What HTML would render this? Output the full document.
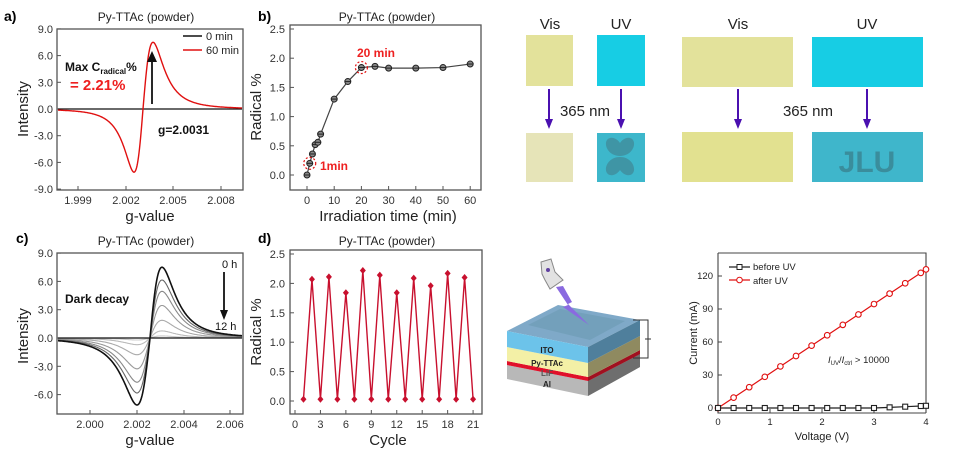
<!DOCTYPE html>
<html><head><meta charset="utf-8">
<style>
body{margin:0;background:#fff;}
svg{display:block;font-family:"Liberation Sans",sans-serif;}
</style></head>
<body>
<svg id="s" width="966" height="455" viewBox="0 0 966 455" xmlns="http://www.w3.org/2000/svg">
<rect width="966" height="455" fill="#fff"/>
<g font-size="15" fill="#222" text-anchor="middle">
<text x="550" y="29">Vis</text><text x="621" y="29">UV</text>
<text x="738" y="29">Vis</text><text x="867" y="29">UV</text>
<text x="585" y="116">365 nm</text><text x="808" y="116">365 nm</text>
</g>
<rect x="526" y="35" width="47" height="51" fill="#e3e29b"/>
<rect x="597" y="35" width="48" height="51" fill="#17cde4"/>
<rect x="526" y="133" width="47" height="49" fill="#e6e4b8"/>
<rect x="597" y="133" width="48" height="49" fill="#3db7cb"/>
<g fill="#3f95a5">
<path d="M620 156 C606 156 602 140 610 138 C614 137 618 140 620 143 C622 140 626 137 630 138 C638 140 634 156 620 156Z"/>
<path d="M620 157 C606 157 602 173 610 175 C614 176 618 173 620 170 C622 173 626 176 630 175 C638 173 634 157 620 157Z"/>
</g>
<rect x="682" y="37" width="111" height="50" fill="#e3e29b"/>
<rect x="812" y="37" width="111" height="50" fill="#17cde4"/>
<rect x="682" y="132" width="111" height="50" fill="#e2e190"/>
<rect x="812" y="132" width="111" height="50" fill="#3fb6cb"/>
<text x="867" y="172" font-size="30" font-weight="bold" fill="#3a8d9c" text-anchor="middle">JLU</text>
<g stroke="#4a10b0" stroke-width="2" fill="#4a10b0">
<line x1="549" y1="89" x2="549" y2="120"/><path d="M545 119 L553 119 L549 129Z" stroke="none"/>
<line x1="621" y1="89" x2="621" y2="120"/><path d="M617 119 L625 119 L621 129Z" stroke="none"/>
<line x1="738" y1="89" x2="738" y2="120"/><path d="M734 119 L742 119 L738 129Z" stroke="none"/>
<line x1="867" y1="89" x2="867" y2="120"/><path d="M863 119 L871 119 L867 129Z" stroke="none"/>
</g>
<g>
<path d="M507 365 L588 381 L640 354 L640 367 L588 396 L507 379Z" fill="#b8b8b8"/>
<path d="M588 381 L640 354 L640 367 L588 396Z" fill="#6e6e6e"/>
<path d="M507 361 L588 377 L640 350 L640 354 L588 381 L507 365Z" fill="#e0102a"/>
<path d="M588 377 L640 350 L640 354 L588 381Z" fill="#a01020"/>
<path d="M507 347 L588 363 L640 336 L640 350 L588 377 L507 361Z" fill="#f3f0a6"/>
<path d="M588 363 L640 336 L640 350 L588 377Z" fill="#8f8a60"/>
<path d="M507 331 L558 305 L640 320 L588 347Z" fill="#7fa9c8"/>
<path d="M507 331 L588 347 L588 363 L507 347Z" fill="#6cc3ea"/>
<path d="M588 347 L640 320 L640 336 L588 363Z" fill="#4f7f9c"/>
<path d="M528 325 L560 309 L625 321 L590 340Z" fill="#6b9bb3" opacity="0.6"/>
<g font-size="8" font-weight="bold" fill="#222" text-anchor="middle">
<text x="547" y="353">ITO</text><text x="547" y="366">Py-TTAc</text><text x="547" y="376" fill="#555">LiF</text><text x="547" y="387">Al</text>
</g>
<path d="M556 287 L563 286 L572 302 L568 304 L589 325 L563 307 L568 305 Z" fill="#8a6ae0"/>
<path d="M541 262 L551 259 L555 272 L563 280 L550 289 L545 280 L542 274 Z" fill="#e2e2e2" stroke="#888"/>
<circle cx="548" cy="270" r="2" fill="#6040a0"/>
<path d="M633 320 L648 320 L648 358 L633 358 M645 339 L651 339" stroke="#333" fill="none"/>
</g>
<g id="iv"></g>
<g id="pa"></g><g id="pb"></g><g id="pc"></g><g id="pd"></g>
</svg>
<script>
const NS="http://www.w3.org/2000/svg";
function el(p,t,a,txt){const e=document.createElementNS(NS,t);for(const k in a)e.setAttribute(k,a[k]);if(txt!==undefined)e.textContent=txt;document.getElementById(p).appendChild(e);return e;}
function frame(p,x0,y0,x1,y1){el(p,"rect",{x:x0,y:y0,width:x1-x0,height:y1-y0,fill:"none",stroke:"#555","stroke-width":1.3});}
function s(u){return u/Math.pow(1+u*u/3,2)/0.5625;}
function epr(x,xz,al,ar,pmin,pmax){const d=x-xz;return d<0?pmin*s(d/al):pmax*s(d/ar);}
(function(){const p="pa";
el(p,"text",{x:4,y:21,"font-size":14,"font-weight":"bold"},"a)");
el(p,"text",{x:146,y:21,"font-size":12,"text-anchor":"middle",fill:"#222"},"Py-TTAc (powder)");
frame(p,57,29,243,190);
const yz=109,k=26.7/3;
[9,6,3,0,-3,-6,-9].forEach(v=>{const y=yz-v*k;el(p,"text",{x:53,y:y+4,"font-size":11,"text-anchor":"end",fill:"#333"},v.toFixed(1));el(p,"line",{x1:57,y1:y,x2:61,y2:y,stroke:"#555"});});
[[78,"1.999"],[126,"2.002"],[173,"2.005"],[221,"2.008"]].forEach(a=>{el(p,"text",{x:a[0],y:204,"font-size":11,"text-anchor":"middle",fill:"#333"},a[1]);el(p,"line",{x1:a[0],y1:190,x2:a[0],y2:186,stroke:"#555"});});
el(p,"text",{x:150,y:221,"font-size":15,"text-anchor":"middle",fill:"#222"},"g-value");
el(p,"text",{x:0,y:0,"font-size":15,"text-anchor":"middle",fill:"#222",transform:"translate(28,109) rotate(-90)"},"Intensity");
el(p,"line",{x1:58,y1:yz,x2:242,y2:yz,stroke:"#111","stroke-width":1.3});
let d="";for(let x=58;x<=242;x+=0.5){d+=(x==58?"M":"L")+x+" "+(yz-epr(x,143,9,10,7.1,7.5)*k).toFixed(1);}
el(p,"path",{d:d,fill:"none",stroke:"#e01010","stroke-width":1.4});
el(p,"line",{x1:183,y1:36,x2:202,y2:36,stroke:"#111","stroke-width":1.5});
el(p,"line",{x1:183,y1:50,x2:202,y2:50,stroke:"#e01010","stroke-width":1.5});
el(p,"text",{x:206,y:40,"font-size":11,fill:"#222"},"0 min");
el(p,"text",{x:206,y:54,"font-size":11,fill:"#222"},"60 min");
const t=el(p,"text",{x:65,y:71,"font-size":12,"font-weight":"bold",fill:"#111"});t.innerHTML='Max C<tspan font-size="8" dy="3">radical</tspan><tspan dy="-3">%</tspan>';
el(p,"text",{x:70,y:90,"font-size":15,"font-weight":"bold",fill:"#ee2020"},"= 2.21%");
el(p,"line",{x1:152,y1:104,x2:152,y2:60,stroke:"#111","stroke-width":1.8});
el(p,"path",{d:"M147 62 L157 62 L152 51Z",fill:"#111"});
el(p,"text",{x:158,y:134,"font-size":12,"font-weight":"bold",fill:"#111"},"g=2.0031");
})();
(function(){const p="pb";
el(p,"text",{x:258,y:21,"font-size":14,"font-weight":"bold"},"b)");
el(p,"text",{x:387,y:21,"font-size":12,"text-anchor":"middle",fill:"#222"},"Py-TTAc (powder)");
frame(p,290,25,481,190);
const X=v=>307+v*2.72,Y=v=>175-v*58.4;
[0,0.5,1,1.5,2,2.5].forEach(v=>{el(p,"text",{x:285,y:Y(v)+4,"font-size":11,"text-anchor":"end",fill:"#333"},v.toFixed(1));el(p,"line",{x1:290,y1:Y(v),x2:294,y2:Y(v),stroke:"#555"});});
[0,10,20,30,40,50,60].forEach(v=>{el(p,"text",{x:X(v),y:204,"font-size":11,"text-anchor":"middle",fill:"#333"},v);el(p,"line",{x1:X(v),y1:190,x2:X(v),y2:186,stroke:"#555"});});
el(p,"text",{x:388,y:221,"font-size":15,"text-anchor":"middle",fill:"#222"},"Irradiation time (min)");
el(p,"text",{x:0,y:0,"font-size":15,"text-anchor":"middle",fill:"#222",transform:"translate(261,107) rotate(-90)"},"Radical %");
const pts=[[0,0],[1,0.2],[2,0.36],[3,0.52],[4,0.56],[5,0.7],[10,1.3],[15,1.6],[20,1.84],[25,1.86],[30,1.83],[40,1.83],[50,1.84],[60,1.9]];
el(p,"path",{d:pts.map((q,i)=>(i?"L":"M")+X(q[0])+" "+Y(q[1])).join(""),fill:"none",stroke:"#444","stroke-width":1.2});
pts.forEach(q=>{el(p,"circle",{cx:X(q[0]),cy:Y(q[1]),r:3,fill:"#888",stroke:"#222","stroke-width":1});el(p,"line",{x1:X(q[0])-3,y1:Y(q[1]),x2:X(q[0])+3,y2:Y(q[1]),stroke:"#222"});});
el(p,"circle",{cx:X(1),cy:Y(0.2),r:6,fill:"none",stroke:"#e01010","stroke-dasharray":"2 2","stroke-width":1.2});
el(p,"circle",{cx:X(20),cy:Y(1.84),r:6,fill:"none",stroke:"#e01010","stroke-dasharray":"2 2","stroke-width":1.2});
el(p,"text",{x:357,y:57,"font-size":12,"font-weight":"bold",fill:"#ee2020"},"20 min");
el(p,"text",{x:320,y:170,"font-size":12,"font-weight":"bold",fill:"#ee2020"},"1min");
})();
(function(){const p="pc";
el(p,"text",{x:16,y:243,"font-size":14,"font-weight":"bold"},"c)");
el(p,"text",{x:146,y:245,"font-size":12,"text-anchor":"middle",fill:"#222"},"Py-TTAc (powder)");
frame(p,57,253,243,414);
const yz=338,k=28.3/3;
[9,6,3,0,-3,-6].forEach(v=>{const y=yz-v*k;el(p,"text",{x:53,y:y+4,"font-size":11,"text-anchor":"end",fill:"#333"},v.toFixed(1));el(p,"line",{x1:57,y1:y,x2:61,y2:y,stroke:"#555"});});
[[90,"2.000"],[137,"2.002"],[184,"2.004"],[230,"2.006"]].forEach(a=>{el(p,"text",{x:a[0],y:428,"font-size":11,"text-anchor":"middle",fill:"#333"},a[1]);el(p,"line",{x1:a[0],y1:414,x2:a[0],y2:410,stroke:"#555"});});
el(p,"text",{x:150,y:445,"font-size":15,"text-anchor":"middle",fill:"#222"},"g-value");
el(p,"text",{x:0,y:0,"font-size":15,"text-anchor":"middle",fill:"#222",transform:"translate(28,336) rotate(-90)"},"Intensity");
const sc=[0.03,0.1,0.25,0.46,0.66,0.82,1];const cols=["#ccc","#bbb","#aaa","#999","#888","#666","#111"];
sc.forEach((f,i)=>{let d="";for(let x=58;x<=242;x+=0.5){d+=(x==58?"M":"L")+x+" "+(yz-f*epr(x,150,13,12,7.1,7.5)*k).toFixed(1);}
el(p,"path",{d:d,fill:"none",stroke:cols[i],"stroke-width":i==6?1.6:1.1});});
el(p,"line",{x1:58,y1:yz,x2:242,y2:yz,stroke:"#111","stroke-width":1.3});
el(p,"text",{x:65,y:303,"font-size":12,"font-weight":"bold",fill:"#111"},"Dark decay");
el(p,"text",{x:222,y:268,"font-size":11,fill:"#111"},"0 h");
el(p,"line",{x1:224,y1:272,x2:224,y2:312,stroke:"#111","stroke-width":1.8});
el(p,"path",{d:"M220 310 L228 310 L224 320Z",fill:"#111"});
el(p,"text",{x:215,y:330,"font-size":11,fill:"#111"},"12 h");
})();
(function(){const p="pd";
el(p,"text",{x:258,y:243,"font-size":14,"font-weight":"bold"},"d)");
el(p,"text",{x:387,y:245,"font-size":12,"text-anchor":"middle",fill:"#222"},"Py-TTAc (powder)");
frame(p,290,250,482,414);
const X=v=>295+v*8.48,Y=v=>401-v*58.8;
[0,0.5,1,1.5,2,2.5].forEach(v=>{el(p,"text",{x:285,y:Y(v)+4,"font-size":11,"text-anchor":"end",fill:"#333"},v.toFixed(1));el(p,"line",{x1:290,y1:Y(v),x2:294,y2:Y(v),stroke:"#555"});});
[0,3,6,9,12,15,18,21].forEach(v=>{el(p,"text",{x:X(v),y:428,"font-size":11,"text-anchor":"middle",fill:"#333"},v);el(p,"line",{x1:X(v),y1:414,x2:X(v),y2:410,stroke:"#555"});});
el(p,"text",{x:388,y:445,"font-size":15,"text-anchor":"middle",fill:"#222"},"Cycle");
el(p,"text",{x:0,y:0,"font-size":15,"text-anchor":"middle",fill:"#222",transform:"translate(261,332) rotate(-90)"},"Radical %");
const hv={2:2.07,4:2.11,6:1.84,8:2.22,10:2.14,12:1.84,14:2.09,16:1.96,18:2.17,20:2.10};
const pts=[];for(let c=1;c<=21;c++)pts.push([c,hv[c]||0.03]);
el(p,"path",{d:pts.map((q,i)=>(i?"L":"M")+X(q[0])+" "+Y(q[1]).toFixed(1)).join(""),fill:"none",stroke:"#c8102e","stroke-width":1.4});
pts.forEach(q=>{const x=X(q[0]),y=Y(q[1]);el(p,"path",{d:`M${x} ${y-3.5}L${x+3} ${y}L${x} ${y+3.5}L${x-3} ${y}Z`,fill:"#c8102e"});});
})();
(function(){const p="iv";
el(p,"path",{d:"M718 253 L718 413 L926 413 M718 253 L926 253 L926 413",fill:"none",stroke:"#444","stroke-width":1.1});
const X=v=>718+v*52,Y=v=>408-v*1.1;
[0,30,60,90,120].forEach(v=>{el(p,"text",{x:713,y:Y(v)+3,"font-size":9.5,"text-anchor":"end",fill:"#222"},v);el(p,"line",{x1:718,y1:Y(v),x2:722,y2:Y(v),stroke:"#444"});});
[0,1,2,3,4].forEach(v=>{el(p,"text",{x:X(v),y:425,"font-size":9.5,"text-anchor":"middle",fill:"#222"},v);el(p,"line",{x1:X(v),y1:413,x2:X(v),y2:409,stroke:"#444"});});
el(p,"text",{x:822,y:440,"font-size":11,"text-anchor":"middle",fill:"#222"},"Voltage (V)");
el(p,"text",{x:0,y:0,"font-size":11,"text-anchor":"middle",fill:"#222",transform:"translate(697,333) rotate(-90)"},"Current (mA)");
const vs=[];for(let i=0;i<=13;i++)vs.push(+(i*0.3).toFixed(1));vs.push(4);
const red=vs.map(v=>[v,v*31.5]);const blk=vs.map(v=>[v,v<3?0:(v-3)*2]);
el(p,"path",{d:red.map((q,i)=>(i?"L":"M")+X(q[0])+" "+Y(q[1])).join(""),fill:"none",stroke:"#e01010","stroke-width":1.2});
el(p,"path",{d:blk.map((q,i)=>(i?"L":"M")+X(q[0])+" "+Y(q[1])).join(""),fill:"none",stroke:"#222","stroke-width":1.2});
red.forEach(q=>el(p,"circle",{cx:X(q[0]),cy:Y(q[1]),r:2.8,fill:"#fff",stroke:"#e01010","stroke-width":1.1}));
blk.forEach(q=>el(p,"rect",{x:X(q[0])-2.5,y:Y(q[1])-2.5,width:5,height:5,fill:"#fff",stroke:"#222","stroke-width":1.1}));
el(p,"line",{x1:729,y1:267,x2:750,y2:267,stroke:"#222","stroke-width":1.2});el(p,"rect",{x:737,y:264.5,width:5,height:5,fill:"#fff",stroke:"#222"});
el(p,"line",{x1:729,y1:280,x2:750,y2:280,stroke:"#e01010","stroke-width":1.2});el(p,"circle",{cx:739.5,cy:280,r:2.8,fill:"#fff",stroke:"#e01010"});
el(p,"text",{x:753,y:270,"font-size":9.5,fill:"#222"},"before UV");
el(p,"text",{x:753,y:284,"font-size":9.5,fill:"#222"},"after UV");
const t=el(p,"text",{x:828,y:363,"font-size":9.5,fill:"#222"});t.innerHTML='<tspan font-style="italic">I</tspan><tspan font-size="6" dy="2">UV</tspan><tspan dy="-2">/</tspan><tspan font-style="italic">I</tspan><tspan font-size="6" dy="2">ctrl</tspan><tspan dy="-2"> &gt; 10000</tspan>';
})();
</script>
</body></html>
